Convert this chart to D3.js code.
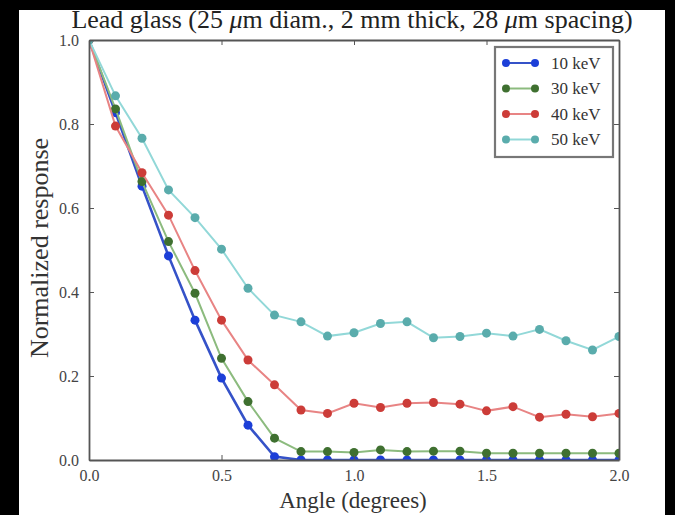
<!DOCTYPE html>
<html>
<head>
<meta charset="utf-8">
<script src="https://cdn.jsdelivr.net/npm/d3@7"></script>
<style>
  html, body { margin: 0; padding: 0; background: #000; }
  svg { display: block; }
  text { font-family: "Liberation Serif", "DejaVu Serif", serif; }
</style>
</head>
<body>
<svg id="chart" width="675" height="515"></svg>
<script>
// angles sampled every 0.1 degree
const angles = d3.range(0, 21).map((i) => i / 10);
const energies = ['10 keV', '30 keV', '40 keV', '50 keV'];

const resp10 = [1.0, 0.827, 0.652, 0.486, 0.333, 0.195, 0.083, 0.008, 0.0, 0.0, 0.0,
    0.0, 0.0, 0.0, 0.0, 0.0, 0.0, 0.0, 0.0, 0.0, 0.0];
const resp30 = [1.0, 0.836, 0.663, 0.52, 0.397, 0.242, 0.139, 0.052, 0.02, 0.02, 0.018,
    0.024, 0.02, 0.021, 0.021, 0.016, 0.016, 0.016, 0.016, 0.016, 0.016];
const resp40 = [1.0, 0.795, 0.684, 0.583, 0.451, 0.333, 0.238, 0.179, 0.119, 0.111, 0.135,
    0.125, 0.135, 0.137, 0.133, 0.117, 0.127, 0.102, 0.109, 0.103, 0.111];
const resp50 = [1.0, 0.867, 0.766, 0.643, 0.577, 0.502, 0.409, 0.345, 0.329, 0.295, 0.303,
    0.325, 0.329, 0.291, 0.294, 0.302, 0.295, 0.311, 0.284, 0.262, 0.294];

const markerColors = ['#1c3fd8', '#3f7030', '#cc3c38', '#5aacac'];
const lineColors = ['#3552c8', '#8cbb7e', '#e88484', '#92d8d8'];

const series = [resp10, resp30, resp40, resp50].map((vals, k) => ({
    name: energies[k],
    marker: markerColors[k],
    line: lineColors[k],
    points: vals.map((v, i) => ({ x: angles[i], y: v })),
}));

const svg = d3.select('#chart');

// white figure panel inside the black frame
svg.append('rect')
    .attr('x', 19).attr('y', 10)
    .attr('width', 646).attr('height', 505)
    .attr('fill', '#fff');

const plot = { left: 89, right: 619, top: 40, bottom: 460 };

const x = d3.scaleLinear().domain([0, 2]).range([plot.left, plot.right]);
const y = d3.scaleLinear().domain([0, 1]).range([plot.bottom, plot.top]);

svg.append('clipPath')
    .attr('id', 'plot-clip')
    .append('rect')
    .attr('x', plot.left).attr('y', plot.top)
    .attr('width', plot.right - plot.left)
    .attr('height', plot.bottom - plot.top);

const data = svg.append('g').attr('clip-path', 'url(#plot-clip)');

const line = d3.line().x((d) => x(d.x)).y((d) => y(d.y));

series.forEach((s) => {
    const g = data.append('g');
    g.append('path')
        .datum(s.points)
        .attr('fill', 'none')
        .attr('stroke', s.line)
        .attr('stroke-width', s.name === '10 keV' ? 2.6 : 2)
        .attr('d', line);
    g.selectAll('circle')
        .data(s.points)
        .join('circle')
        .attr('cx', (d) => x(d.x))
        .attr('cy', (d) => y(d.y))
        .attr('r', 4.5)
        .attr('fill', s.marker);
});

// axes, matplotlib style: frame with inward ticks
const axisColor = '#555';
const tickLen = 5;

const xAxisB = d3.axisBottom(x).tickValues([0, 0.5, 1, 1.5, 2])
    .tickSizeInner(-tickLen).tickSizeOuter(0).tickPadding(10)
    .tickFormat(d3.format('.1f'));
const xAxisT = d3.axisTop(x).tickValues([0, 0.5, 1, 1.5, 2])
    .tickSizeInner(-tickLen).tickSizeOuter(0).tickFormat('');
const yAxisL = d3.axisLeft(y).tickValues([0, 0.2, 0.4, 0.6, 0.8, 1.0])
    .tickSizeInner(-tickLen).tickSizeOuter(0).tickPadding(10)
    .tickFormat(d3.format('.1f'));
const yAxisR = d3.axisRight(y).tickValues([0, 0.2, 0.4, 0.6, 0.8, 1.0])
    .tickSizeInner(-tickLen).tickSizeOuter(0).tickFormat('');

const axes = [
    svg.append('g').attr('transform', `translate(0,${plot.bottom})`).call(xAxisB),
    svg.append('g').attr('transform', `translate(0,${plot.top})`).call(xAxisT),
    svg.append('g').attr('transform', `translate(${plot.left},0)`).call(yAxisL),
    svg.append('g').attr('transform', `translate(${plot.right},0)`).call(yAxisR),
];
axes.forEach((a) => {
    a.select('.domain').attr('stroke', axisColor).attr('stroke-width', 1.8);
    a.selectAll('.tick line').attr('stroke', axisColor).attr('stroke-width', 1);
    a.selectAll('.tick text')
        .attr('fill', '#444')
        .attr('font-size', 16)
        .style('font-family', '"Liberation Serif", serif');
});

// title
svg.append('text')
    .attr('x', 352)
    .attr('y', 28)
    .attr('text-anchor', 'middle')
    .attr('font-size', 26)
    .attr('fill', '#222')
    .html('Lead glass (25 <tspan font-style="italic">μ</tspan>m diam., 2 mm thick, 28 <tspan font-style="italic">μ</tspan>m spacing)');

// axis labels
svg.append('text')
    .attr('x', 353)
    .attr('y', 508)
    .attr('text-anchor', 'middle')
    .attr('font-size', 23)
    .attr('fill', '#333')
    .text('Angle (degrees)');

svg.append('text')
    .attr('transform', 'translate(48,248) rotate(-90)')
    .attr('text-anchor', 'middle')
    .attr('font-size', 26)
    .attr('fill', '#333')
    .text('Normalized response');

// legend
const legend = svg.append('g').attr('transform', 'translate(495,47)');
legend.append('rect')
    .attr('width', 118).attr('height', 110)
    .attr('fill', '#fff')
    .attr('stroke', '#777')
    .attr('stroke-width', 2.2);

const item = legend.selectAll('g.item')
    .data(series)
    .join('g')
    .attr('class', 'item')
    .attr('transform', (d, i) => `translate(0,${16 + i * 25.5})`);
item.append('line')
    .attr('x1', 11).attr('x2', 40)
    .attr('stroke', (d) => d.line)
    .attr('stroke-width', 2);
item.selectAll('circle')
    .data((d) => [d, d])
    .join('circle')
    .attr('cx', (d, i) => (i === 0 ? 11 : 40))
    .attr('r', 4)
    .attr('fill', (d) => d.marker);
item.append('text')
    .attr('x', 56)
    .attr('dy', '0.35em')
    .attr('font-size', 17)
    .attr('fill', '#333')
    .text((d) => d.name);
</script>
</body>
</html>
